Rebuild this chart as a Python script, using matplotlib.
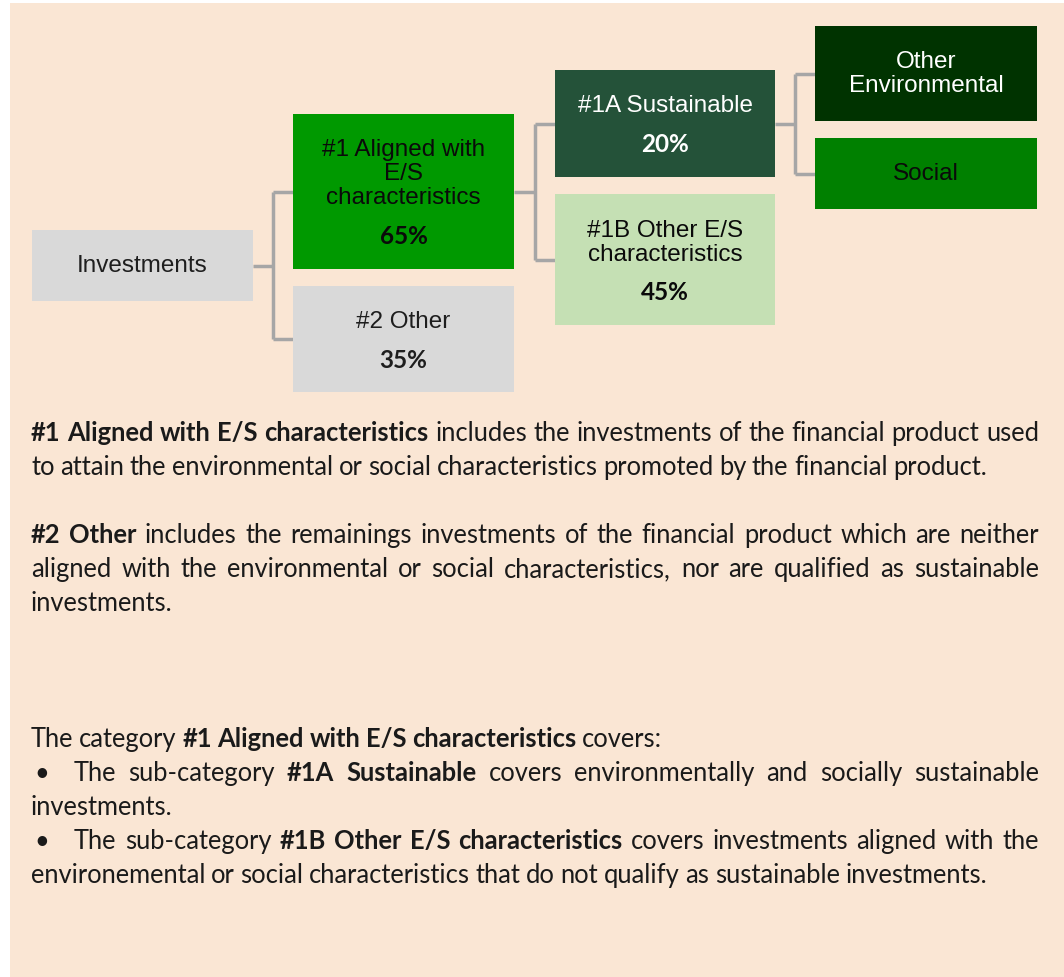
import matplotlib
matplotlib.use('Agg')
import matplotlib.pyplot as plt
from matplotlib.patches import Rectangle

# tree nodes
node_labels = ['Investments', '#1 Aligned with\nE/S\ncharacteristics', '#2 Other',
               '#1A Sustainable', '#1B Other E/S\ncharacteristics',
               'Other\nEnvironmental', 'Social']
node_shares = [None, '65%', '35%', '20%', '45%', None, None]
children = {0: [1, 2], 1: [3, 4], 3: [5, 6]}

# explanatory text, one entry per printed line: list of (text, bold)
note_lines = [
    [('#1 Aligned with E/S characteristics', True),
     (' includes the investments of the financial product used', False)],
    [('to attain the environmental or social characteristics promoted by the financial product.', False)],
    [('#2 Other', True),
     (' includes the remainings investments of the financial product which are neither', False)],
    [('aligned with the environmental or social characteristics, nor are qualified as sustainable', False)],
    [('investments.', False)],
    [('The category ', False), ('#1 Aligned with E/S characteristics', True), (' covers:', False)],
    [('The sub-category ', False), ('#1A Sustainable', True),
     (' covers environmentally and socially sustainable', False)],
    [('investments.', False)],
    [('The sub-category ', False), ('#1B Other E/S characteristics', True),
     (' covers investments aligned with the', False)],
    [('environemental or social characteristics that do not qualify as sustainable investments.', False)],
]
note_bullet = [False, False, False, False, False, False, True, False, True, False]
note_justify = [True, False, True, True, False, False, True, False, True, False]

# layout in image pixels
boxes = [(32, 231, 253, 302), (293, 115, 514, 270), (293, 287, 514, 393),
         (555, 71, 775, 178), (555, 195, 775, 326),
         (815, 27, 1037, 122), (815, 139, 1037, 210)]
label_y = [266, 174, 322, 106, 243, 74, 174]
share_y = [None, 237, 360, 144, 292, None, None]
fills = ['#d9d9d9', '#009900', '#d9d9d9', '#245239', '#c5e0b4', '#003300', '#008000']
inks = ['#1e1e1e', '#0a0a0a', '#1e1e1e', 'white', '#0a0a0a', 'white', '#0a0a0a']
note_base = [441, 475, 543, 577, 611, 747, 781, 815, 849, 883]

W, H = 1064, 978
fig = plt.figure(figsize=(W / 100, H / 100), dpi=100)
ax = fig.add_axes([0, 0, 1, 1])
ax.set_xlim(0, W)
ax.set_ylim(H, 0)
ax.axis('off')
fig.patch.set_facecolor('white')
ax.add_patch(Rectangle((10, 4), W - 10, H - 4, color='#fae6d4', lw=0, zorder=0))

box_font = 'Liberation Sans'
body_font = 'Lato'

# connectors
for p, kids in children.items():
    px0, py0, px1, py1 = boxes[p]
    cx0 = boxes[kids[0]][0]
    elbow = (px1 + cx0) / 2
    ys = [(boxes[k][1] + boxes[k][3]) / 2 for k in kids]
    kw = dict(color='#a6a6a6', lw=2.5, zorder=1, solid_capstyle='butt')
    ax.plot([px1, elbow], [(py0 + py1) / 2] * 2, **kw)
    ax.plot([elbow, elbow], [min(ys), max(ys)], **kw)
    for k, yk in zip(kids, ys):
        ax.plot([elbow, boxes[k][0]], [yk, yk], **kw)

# boxes
for i, (x0, y0, x1, y1) in enumerate(boxes):
    ax.add_patch(Rectangle((x0, y0), x1 - x0, y1 - y0, color=fills[i], lw=0, zorder=2))
    xc = (x0 + x1) / 2
    lines = node_labels[i].split('\n')
    pitch = 24
    top = label_y[i] - pitch * (len(lines) - 1) / 2
    for j, ln in enumerate(lines):
        ax.text(xc, top + j * pitch, ln, ha='center', va='center', fontsize=17.5,
                family=box_font, color=inks[i], zorder=3)
    if node_shares[i]:
        ax.text(xc, share_y[i], node_shares[i], ha='center', va='center', fontsize=17.5,
                family=body_font, fontweight='bold', color=inks[i], zorder=3)

# notes, justified like the source document
renderer = fig.canvas.get_renderer()
left, right = 31, 1039
fs = 18.4
space = fs * 100 / 72 * 0.22
for line, bullet, just, yb in zip(note_lines, note_bullet, note_justify, note_base):
    x_start = left
    if bullet:
        ax.text(left + 3, yb, '\u2022', fontsize=fs, family=body_font, va='baseline',
                color='#1a1a1a')
        x_start = left + 43
    words = []
    for txt, bold in line:
        for w in txt.split():
            words.append((w, bold))
    arts = [ax.text(0, yb, w, fontsize=fs, family=body_font, va='baseline', ha='left',
                    fontweight='bold' if b else 'normal', color='#1a1a1a')
            for w, b in words]
    widths = [t.get_window_extent(renderer).width for t in arts]
    gap = space
    if just and len(arts) > 1:
        gap = (right - x_start - sum(widths)) / (len(arts) - 1)
    x = x_start
    for t, wd in zip(arts, widths):
        t.set_x(x)
        x += wd + gap

fig.savefig('out.png', dpi=100, facecolor='white')
